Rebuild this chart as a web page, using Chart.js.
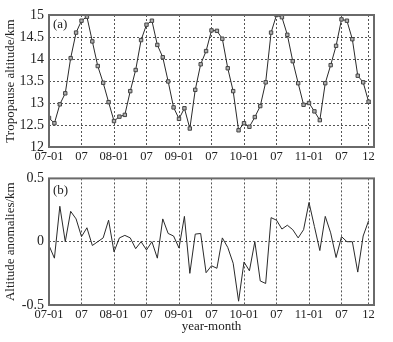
<!DOCTYPE html>
<html>
<head>
<meta charset="utf-8">
<script src="https://cdn.jsdelivr.net/npm/chart.js@4"></script>
<style>
  html, body { margin: 0; padding: 0; background: #fff; }
  #wrap { position: relative; width: 393px; height: 342px; }
  canvas { position: absolute; left: 0; }
  #chartA { top: 0; }
  #chartB { top: 165px; }
</style>
</head>
<body>
<div id="wrap">
  <canvas id="chartA" width="393" height="165"></canvas>
  <canvas id="chartB" width="393" height="177"></canvas>
</div>
<script>
// Monthly values, 2007-01 .. 2011-12
const altitude = [12.66, 12.54, 12.97, 13.22, 14.02, 14.6, 14.87, 14.96, 14.4, 13.84,
                  13.46, 13.02, 12.59, 12.69, 12.73, 13.27, 13.75, 14.43, 14.78, 14.87,
                  14.32, 14.04, 13.49, 12.9, 12.64, 12.88, 12.42, 13.3, 13.88, 14.18,
                  14.65, 14.64, 14.46, 13.79, 13.27, 12.38, 12.54, 12.46, 12.68, 12.93,
                  13.47, 14.6, 15.0, 14.95, 14.55, 13.95, 13.45, 12.96, 13.0, 12.81,
                  12.61, 13.45, 13.86, 14.3, 14.9, 14.87, 14.45, 13.62, 13.47, 13.03];
const anomaly = [-0.03, -0.13, 0.28, 0.0, 0.24, 0.18, 0.04, 0.11, -0.03, 0.0,
                 0.03, 0.17, -0.08, 0.03, 0.05, 0.03, -0.055, 0.0, -0.065, 0.0,
                 -0.13, 0.18, 0.065, 0.045, -0.05, 0.2, -0.25, 0.06, 0.065, -0.245,
                 -0.19, -0.21, 0.03, -0.045, -0.17, -0.47, -0.16, -0.23, 0.0, -0.31,
                 -0.33, 0.19, 0.17, 0.1, 0.13, 0.095, 0.03, 0.095, 0.31, 0.12,
                 -0.07, 0.2, 0.07, -0.125, 0.04, 0.0, 0.0, -0.24, 0.045, 0.165];

const tickIndex = [0, 6, 12, 18, 24, 30, 36, 42, 48, 54, 59];
const tickLabels = ['07-01', '07', '08-01', '07', '09-01', '07', '10-01', '07', '11-01', '07', '12'];

const serif = 'Liberation Serif';
const textColor = '#222';
const gridColor = '#555';

// rysuje ramke wokol obszaru wykresu + etykiete panelu
const framePlugin = {
    id: 'frame',
    afterDraw(chart, args, opts) {
        const { ctx, chartArea: a } = chart;
        ctx.save();
        ctx.strokeStyle = '#6a6a6a';
        ctx.lineWidth = 2;
        ctx.strokeRect(a.left, a.top, a.right - a.left, a.bottom - a.top);
        ctx.fillStyle = textColor;
        ctx.font = '13px "' + serif + '"';
        ctx.textBaseline = 'middle';
        ctx.fillText(opts.label, a.left + 4, a.top + opts.dy);
        ctx.restore();
    }
};

function toPoints(arr) {
    return arr.map((v, i) => ({ x: i, y: v }));
}

function xScale(height, showTitle) {
    return {
        type: 'linear',
        min: 0, max: 60,
        afterBuildTicks: (s) => { s.ticks = tickIndex.map(v => ({ value: v })); },
        afterFit: (s) => { s.height = height; },
        grid: { color: gridColor, drawTicks: false, lineWidth: 1 },
        border: { display: false, dash: [2, 2] },
        ticks: {
            color: textColor,
            padding: 2,
            autoSkip: false,
            maxRotation: 0,
            font: { family: serif, size: 12.5 },
            callback: (v) => tickLabels[tickIndex.indexOf(v)]
        },
        title: {
            display: showTitle,
            text: 'year-month',
            color: textColor,
            font: { family: serif, size: 13 },
            padding: { top: 0, bottom: 8 }
        }
    };
}

function yScale(min, max, step, title, gridFn) {
    return {
        min: min, max: max,
        afterFit: (s) => { s.width = 49; },
        grid: { color: gridFn, drawTicks: false, lineWidth: 1 },
        border: { display: false, dash: [2, 2] },
        ticks: {
            stepSize: step,
            color: textColor,
            padding: 5,
            font: { family: serif, size: 14 },
            callback: (v) => String(v)
        },
        title: {
            display: true,
            text: title,
            color: textColor,
            font: { family: serif, size: 13 },
            padding: { top: 3, bottom: 0 }
        }
    };
}

const lineStyle = {
    borderColor: '#2a2a2a',
    borderWidth: 1,
    tension: 0
};

new Chart(document.getElementById('chartA'), {
    type: 'line',
    data: {
        datasets: [Object.assign({
            data: toPoints(altitude),
            pointStyle: 'rect',
            pointRadius: 2.4,
            pointBackgroundColor: '#b0b0b0',
            pointBorderColor: '#444',
            pointBorderWidth: 1
        }, lineStyle)]
    },
    options: {
        responsive: false,
        animation: false,
        events: [],
        layout: { padding: { top: 15, right: 19, left: 0, bottom: 0 } },
        plugins: {
            legend: { display: false },
            tooltip: { enabled: false },
            frame: { label: '(a)', dy: 10 }
        },
        scales: {
            x: xScale(18, false),
            y: yScale(12, 15, 0.5, 'Tropopause altitude/km', gridColor)
        }
    },
    plugins: [framePlugin]
});

new Chart(document.getElementById('chartB'), {
    type: 'line',
    data: {
        datasets: [Object.assign({
            data: toPoints(anomaly),
            pointRadius: 0
        }, lineStyle)]
    },
    options: {
        responsive: false,
        animation: false,
        events: [],
        layout: { padding: { top: 7, right: 19, left: 0, bottom: 0 } },
        plugins: {
            legend: { display: false },
            tooltip: { enabled: false },
            frame: { label: '(b)', dy: 12 }
        },
        scales: {
            x: xScale(37, true),
            y: yScale(-0.5, 0.5, 0.5, 'Altitude anomalies/km',
                (c) => c.tick && c.tick.value === 0 ? gridColor : 'rgba(0,0,0,0)')
        }
    },
    plugins: [framePlugin]
});
</script>
</body>
</html>
